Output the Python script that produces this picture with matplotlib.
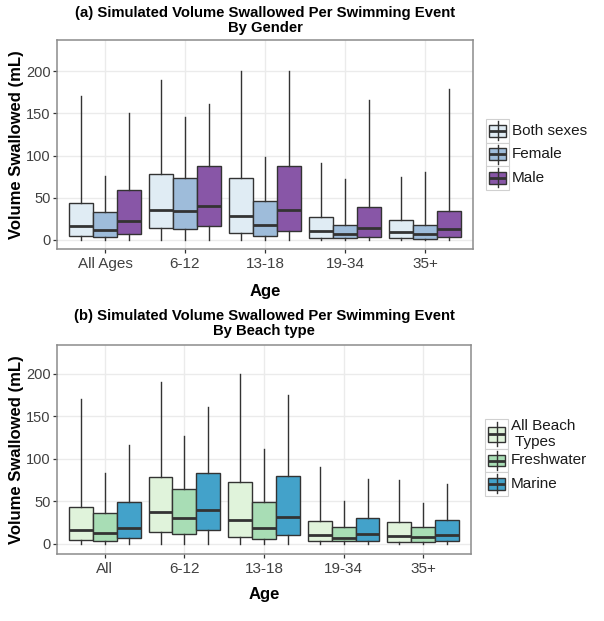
import matplotlib
matplotlib.use("Agg")
import matplotlib.pyplot as plt
from matplotlib.patches import Rectangle
from matplotlib.lines import Line2D

plt.rcParams['font.family'] = ['Liberation Sans', 'DejaVu Sans']

# ---------------- data ----------------
ages_a = ["All Ages", "6-12", "13-18", "19-34", "35+"]
groups_a = ["Both sexes", "Female", "Male"]
a_whishi = [[171, 190, 200, 91, 75],
            [76, 146, 98, 72, 80],
            [150, 161, 200, 166, 179]]
a_q3 = [[44, 78, 73, 27, 24],
        [33, 73, 46, 18, 18],
        [59, 88, 88, 39, 34]]
a_med = [[16.5, 36, 28, 10.5, 9.5],
         [12, 34.5, 18, 7.5, 7],
         [22, 40, 35, 14, 13]]
a_q1 = [[5, 14, 8.5, 2.5, 2.5],
        [3.5, 13, 5, 2.5, 1],
        [7, 17, 11, 3, 3]]
a_whislo = [[0, 0, 0, 0, 0],
            [0, 0, 0, 0, 0],
            [0, 0, 0, 0, 0]]

ages_b = ["All", "6-12", "13-18", "19-34", "35+"]
groups_b = ["All Beach\n Types", "Freshwater", "Marine"]
b_whishi = [[170, 191, 200, 90, 75],
            [84, 127, 112, 50, 48],
            [117, 161, 175, 76, 70]]
b_q3 = [[44, 79, 72.5, 27, 25.5],
        [36, 65, 49, 20, 19.5],
        [49, 84, 80, 30, 28]]
b_med = [[17, 38, 28, 10, 9],
         [12.5, 31, 19, 7.5, 8],
         [19, 40, 32, 11.5, 10]]
b_q1 = [[5, 14.5, 8.5, 3.5, 2.5],
        [3.5, 12, 6, 3, 2.5],
        [6.5, 16, 11, 3, 3]]
b_whislo = [[0, 0, 0, 0, 0],
            [0, 0, 0, 0, 0],
            [0, 0, 0, 0, 0]]

yticks = [0, 50, 100, 150, 200]
title_a = "(a) Simulated Volume Swallowed Per Swimming Event\nBy Gender"
title_b = "(b) Simulated Volume Swallowed Per Swimming Event\nBy Beach type"
colors_a = ["#e0ecf4", "#9ebcda", "#8856a7"]
colors_b = ["#e0f3db", "#a8ddb5", "#43a2ca"]

# ---------------- style ----------------
EDGE = "#333333"
GRID = "#EBEBEB"
BORDER = "#8C8C8C"
LW = 1.0
MED_LW = 2.0

W, H = 604, 621
fig = plt.figure(figsize=(W / 100, H / 100), dpi=100)


def px_rect(l, t, r, b):
    return [l / W, 1 - b / H, (r - l) / W, (b - t) / H]


def draw_panel(rect, cats, whislo, q1, med, q3, whishi, colors, ylim):
    ax = fig.add_axes(px_rect(*rect))
    n = len(colors)
    width = 0.9 / n
    for g in range(n):
        stats = [dict(whislo=whislo[g][i], q1=q1[g][i], med=med[g][i],
                      q3=q3[g][i], whishi=whishi[g][i], fliers=[])
                 for i in range(len(cats))]
        positions = [i + (g - (n - 1) / 2) * width for i in range(len(cats))]
        ax.bxp(stats, positions=positions, widths=width, patch_artist=True,
               showcaps=False, showfliers=False, manage_ticks=False,
               boxprops=dict(facecolor=colors[g], edgecolor=EDGE, linewidth=LW),
               medianprops=dict(color=EDGE, linewidth=MED_LW, solid_capstyle='butt'),
               whiskerprops=dict(color=EDGE, linewidth=LW))
    ax.set_xlim(-0.6, len(cats) - 0.4)
    ax.set_ylim(*ylim)
    ax.set_xticks(range(len(cats)))
    ax.set_xticklabels(cats, fontsize=11, color="#404040")
    ax.set_yticks(yticks)
    ax.set_yticklabels([str(v) for v in yticks], fontsize=10.5, color="#404040")
    ax.tick_params(axis='both', length=3, width=0.9, color=EDGE)
    ax.tick_params(axis='x', pad=2.5)
    ax.tick_params(axis='y', pad=1.5)
    ax.grid(True, color=GRID, linewidth=1.0)
    ax.set_axisbelow(True)
    for s in ax.spines.values():
        s.set_color(BORDER)
        s.set_linewidth(1.1)
    return ax


rect_a = (57, 40, 473, 249)
rect_b = (57, 345, 471, 554)
ax_a = draw_panel(rect_a, ages_a, a_whislo, a_q1, a_med, a_q3, a_whishi, colors_a, (-10.7, 237))
ax_b = draw_panel(rect_b, ages_b, b_whislo, b_q1, b_med, b_q3, b_whishi, colors_b, (-11.8, 234.1))

# titles & axis labels
for rect, title, title_y, xlab_y in [(rect_a, title_a, 20.5, 291.5), (rect_b, title_b, 323.5, 595)]:
    cx = (rect[0] + rect[2]) / 2 / W
    fig.text(cx, 1 - title_y / H, title, ha='center', va='center', fontsize=10.7,
             fontweight='bold', linespacing=1.12)
    fig.text(cx, 1 - xlab_y / H, "Age", ha='center', va='center', fontsize=12, fontweight='bold')
    cy = 1 - (rect[1] + rect[3]) / 2 / H
    fig.text(17.0 / W, cy, "Volume Swallowed (mL)", rotation=90, ha='center', va='center',
             fontsize=12, fontweight='bold')

# legends (drawn in pixel space overlay)
lax = fig.add_axes([0, 0, 1, 1])
lax.set_xlim(0, W)
lax.set_ylim(H, 0)
lax.axis('off')


def draw_legend(x0, x1, tx, row_edges, labels, colors):
    for k, (lab, col) in enumerate(zip(labels, colors)):
        y0, y1 = row_edges[k], row_edges[k + 1]
        w, h = x1 - x0, y1 - y0
        cx = (x0 + x1) / 2
        lax.add_patch(Rectangle((x0, y0), w, h, facecolor='white', edgecolor='#D0D0D0', lw=0.8))
        lax.add_line(Line2D([cx, cx], [y0 + 0.1 * h, y0 + 0.9 * h], color=EDGE, lw=LW))
        lax.add_patch(Rectangle((x0 + 0.125 * w, y0 + 0.25 * h), 0.75 * w, 0.5 * h,
                                facecolor=col, edgecolor=EDGE, lw=LW))
        lax.add_line(Line2D([x0 + 0.125 * w, x0 + 0.875 * w], [y0 + 0.5 * h] * 2,
                            color=EDGE, lw=MED_LW, solid_capstyle='butt'))
        lax.text(tx, (y0 + y1) / 2, lab, ha='left', va='center', fontsize=11,
                 color='#1A1A1A', linespacing=1.15)


draw_legend(486, 509, 512, [119, 142.5, 166, 189.5], groups_a, colors_a)
draw_legend(485, 508, 511, [419, 449, 472, 495.5], groups_b, colors_b)

fig.savefig("out.png", dpi=100)
